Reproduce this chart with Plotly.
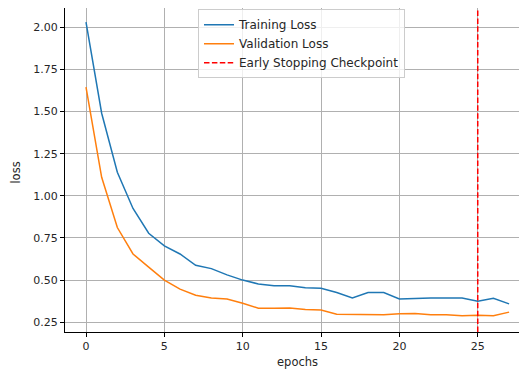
import plotly.graph_objects as go

epochs = list(range(28))
training_loss = [2.03, 1.49, 1.14, 0.925, 0.778, 0.703, 0.655, 0.588, 0.568, 0.531,
                 0.500, 0.477, 0.467, 0.467, 0.454, 0.452, 0.426, 0.394, 0.426, 0.426,
                 0.388, 0.392, 0.394, 0.394, 0.394, 0.375, 0.392, 0.359]
validation_loss = [1.645, 1.11, 0.812, 0.655, 0.577, 0.500, 0.446, 0.410, 0.394, 0.388,
                   0.363, 0.333, 0.333, 0.335, 0.325, 0.323, 0.298, 0.298, 0.298, 0.294,
                   0.300, 0.302, 0.294, 0.294, 0.288, 0.292, 0.288, 0.310]
checkpoint_epoch = 25
y_ticks = [0.25, 0.50, 0.75, 1.00, 1.25, 1.50, 1.75, 2.00]
x_ticks = [0, 5, 10, 15, 20, 25]

FONT = "DejaVu Sans"
TXT = "#262626"

fig = go.Figure()
fig.add_trace(go.Scatter(x=epochs, y=training_loss, mode="lines", name="Training Loss",
                         line=dict(color="#1f77b4", width=1.5)))
fig.add_trace(go.Scatter(x=epochs, y=validation_loss, mode="lines", name="Validation Loss",
                         line=dict(color="#ff7f0e", width=1.5)))
fig.add_shape(type="line", xref="x", yref="y domain", x0=checkpoint_epoch, x1=checkpoint_epoch,
              y0=0, y1=1, line=dict(color="#ff0000", width=1.5, dash="5.5px,2.4px"),
              showlegend=True, name="Early Stopping Checkpoint")

axis_common = dict(showline=True, mirror=True, linecolor="black", linewidth=1,
                   showgrid=True, gridcolor="#b0b0b0", gridwidth=0.8,
                   ticks="outside", ticklen=4, tickcolor="black", tickwidth=1,
                   zeroline=False, automargin=False,
                   tickfont=dict(family=FONT, size=11, color=TXT))

# page body has an 8px default margin, so the figure is sized to fit the window
fig.update_layout(
    width=519, height=368,
    margin=dict(l=57, r=1, t=0, b=44),
    paper_bgcolor="white", plot_bgcolor="white",
    font=dict(family=FONT, size=11, color=TXT),
    xaxis=dict(range=[-1.34, 28.08], tickvals=x_ticks, **axis_common),
    yaxis=dict(range=[0.192, 2.1145], tickvals=y_ticks, tickformat=".2f", **axis_common),
    legend=dict(x=0.2885, y=0.996, xanchor="left", yanchor="top",
                bgcolor="rgba(255,255,255,0.8)", bordercolor="#cccccc", borderwidth=1,
                font=dict(family=FONT, size=12, color=TXT)),
    showlegend=True,
    annotations=[
        dict(text="epochs", xref="paper", yref="paper", x=0.505, y=0, xanchor="center",
             yanchor="middle", yshift=-30, showarrow=False,
             font=dict(family=FONT, size=11.5, color=TXT)),
        dict(text="loss", xref="paper", yref="paper", x=0, y=0.492, xanchor="center",
             yanchor="middle", xshift=-49, textangle=-90, showarrow=False,
             font=dict(family=FONT, size=11.5, color=TXT)),
    ],
)

fig.write_html("out.html")
